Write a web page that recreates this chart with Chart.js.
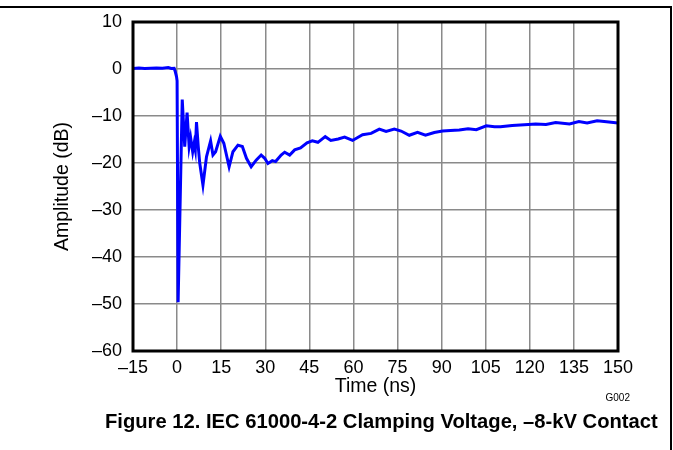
<!DOCTYPE html>
<html lang="en">
<head>
    <meta charset="UTF-8">
    <title>IEC 61000-4-2 Clamping Voltage</title>
    <script src="https://cdn.jsdelivr.net/npm/chart.js"></script>
    <style>
        body {
            margin: 0;
            background: #fff;
            font-family: 'Liberation Sans', Arial, sans-serif;
        }
        .wrap {
            position: relative;
            width: 673px;
            height: 450px;
            overflow: hidden;
        }
        #chart {
            position: absolute;
            left: 0;
            top: 0;
        }
        .top-rule {
            position: absolute;
            left: 0;
            top: 6px;
            width: 672px;
            height: 2px;
            background: #000;
        }
        .right-rule {
            position: absolute;
            left: 670px;
            top: 6px;
            width: 2px;
            height: 444px;
            background: #000;
        }
        .code {
            position: absolute;
            right: 43px;
            top: 392px;
            font-size: 10px;
            color: #000;
        }
        .caption {
            position: absolute;
            left: 105px;
            top: 410px;
            font-size: 20.2px;
            font-weight: bold;
            white-space: nowrap;
            color: #000;
        }
    </style>
</head>
<body>
    <div class="wrap">
        <canvas id="chart" width="673" height="450"></canvas>
        <div class="top-rule"></div>
        <div class="right-rule"></div>
        <div class="code">G002</div>
        <div class="caption">Figure 12. IEC 61000-4-2 Clamping Voltage, –8-kV Contact</div>
    </div>

    <script>
        // values
        const timeNs = [
            -15, -13, -11, -9, -7, -5, -3, -2, -1, -0.6, -0.2, 0.0, 0.35, 1.75,
            2.6, 3.4, 4.1, 4.6, 5.3, 5.8, 6.2, 6.6, 7.2, 7.7, 8.8, 10.0,
            11.4, 12.2, 13.1, 14.7, 15.9, 17.7, 19.0, 20.7, 22.2, 23.6, 25.2, 26.9,
            28.6, 29.8, 30.9, 32.4, 33.5, 35.4, 36.6, 38.3, 40.0, 42.0, 44.2, 46.0,
            47.9, 50.4, 52.3, 54.8, 57.0, 59.7, 63.1, 66.0, 68.8, 71.1, 73.9, 76.2,
            79.0, 81.8, 84.5, 87.5, 90.3, 93.0, 96.0, 99.0, 101.8, 105.2, 108, 110,
            114, 119.5, 122, 125.5, 128.8, 133.5, 136.7, 139.5, 142.9, 146.9, 150
        ];
        const ampDb = [
            0.1, 0.2, 0.1, 0.15, 0.2, 0.15, 0.3, 0.1, 0.15, -0.6, -1.6, -2.5, -49.6, -6.5,
            -16.5, -9.3, -16.5, -14.6, -17.6, -15.8, -17.2, -11.3, -16.5, -20, -24.7, -18.7,
            -15.3, -18.3, -17.6, -14.3, -15.8, -20.8, -17.6, -16.2, -16.5, -19, -20.8, -19.4,
            -18.3, -19, -20.1, -19.5, -19.7, -18.3, -17.7, -18.3, -17.2, -16.8, -15.7, -15.3,
            -15.6, -14.4, -15.2, -14.9, -14.5, -15.2, -14.0, -13.7, -12.8, -13.3, -12.8, -13.2,
            -14.1, -13.5, -14.1, -13.5, -13.2, -13.1, -13.0, -12.7, -12.9, -12.1, -12.3, -12.3,
            -12.0, -11.8, -11.7, -11.8, -11.4, -11.7, -11.2, -11.5, -11.0, -11.3, -11.5
        ];
        const xTicks = [-15, 0, 15, 30, 45, 60, 75, 90, 105, 120, 135, 150];
        const yTicks = [-60, -50, -40, -30, -20, -10, 0, 10];

        const dash = v => String(v).replace('-', '\u2013');

        // thick black frame round the plot area
        const framePlugin = {
            id: 'frame',
            afterDraw(chart) {
                const a = chart.chartArea;
                const c = chart.ctx;
                c.save();
                c.strokeStyle = '#000';
                c.lineWidth = 3;
                c.strokeRect(a.left, a.top, a.right - a.left, a.bottom - a.top);
                c.restore();
            }
        };

        const fam = "'Liberation Sans', Arial, sans-serif";
        const tickFont = { family: fam, size: 18 };
        const titleFont = { family: fam, size: 19.5 };

        new Chart(document.getElementById('chart'), {
            type: 'line',
            data: {
                datasets: [{
                    data: timeNs.map((t, i) => ({ x: t, y: ampDb[i] })),
                    borderColor: '#0000ff',
                    borderWidth: 3,
                    pointRadius: 0,
                    tension: 0,
                    fill: false
                }]
            },
            options: {
                responsive: false,
                animation: false,
                devicePixelRatio: 1,
                layout: { padding: { left: 0, top: 22, right: 55, bottom: 49 } },
                plugins: {
                    legend: { display: false },
                    tooltip: { enabled: false }
                },
                scales: {
                    x: {
                        type: 'linear',
                        min: xTicks[0],
                        max: xTicks[xTicks.length - 1],
                        afterBuildTicks: s => { s.ticks = xTicks.map(v => ({ value: v })); },
                        afterFit: s => { s.height = 50; },
                        grid: { color: '#8a8a8a', lineWidth: 1.5, drawTicks: false },
                        border: { display: false },
                        ticks: {
                            color: '#000',
                            font: tickFont,
                            padding: 6,
                            maxRotation: 0,
                            autoSkip: false,
                            callback: v => dash(v)
                        },
                        title: {
                            display: true,
                            text: 'Time (ns)',
                            color: '#000',
                            font: titleFont,
                            padding: { top: 0, bottom: 3 }
                        }
                    },
                    y: {
                        min: yTicks[0],
                        max: yTicks[yTicks.length - 1],
                        afterBuildTicks: s => { s.ticks = yTicks.map(v => ({ value: v })); },
                        afterFit: s => { s.width = 133; },
                        grid: { color: '#8a8a8a', lineWidth: 1.5, drawTicks: false },
                        border: { display: false },
                        ticks: {
                            color: '#000',
                            font: tickFont,
                            padding: 11,
                            autoSkip: false,
                            callback: v => dash(v)
                        },
                        title: {
                            display: true,
                            text: 'Amplitude (dB)',
                            color: '#000',
                            font: titleFont,
                            padding: { top: 51, bottom: 0 }
                        }
                    }
                }
            },
            plugins: [framePlugin]
        });
    </script>
</body>
</html>
